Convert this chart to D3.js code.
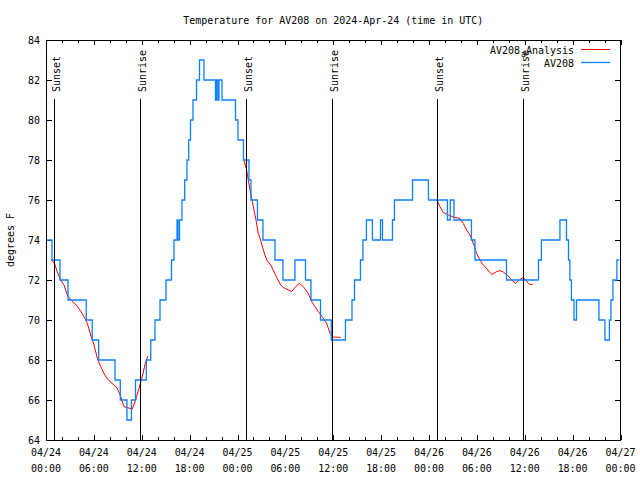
<!DOCTYPE html>
<html>
<head>
<meta charset="utf-8">
<script src="https://cdn.jsdelivr.net/npm/d3@7"></script>
<style>
  body { margin: 0; background: #fff; }
  svg { display: block; }
  text { font-family: 'DejaVu Sans Mono', monospace; font-size: 11px; fill: #000; }
</style>
</head>
<body>
<div class="js-container"></div>
<script>
;(function() {
  'use strict';

  // Hours since 2024-04-24 00:00 UTC at which the AV208 reading changes, and the new reading.
  var sensorHours = [0, 0.75, 1.75, 2.76, 5.04, 5.79, 6.6, 8.65, 9.31, 10.15, 10.71, 11.22,
    12.57, 13.13, 13.66, 14.29, 15.04, 15.73, 16.04, 16.42, 16.54, 16.73, 17.04, 17.38,
    17.67, 17.88, 18.11, 18.42, 18.86, 19.24, 19.8, 21.24, 21.37, 21.55, 21.68, 22.06,
    23.75, 24.06, 24.75, 25.44, 25.69, 26.5, 27.19, 28.7, 29.7, 31.2, 32.52, 33.21, 34.4,
    35.75, 37.53, 38.35, 38.66, 39.41, 39.72, 40.16, 40.91, 41.92, 42.17, 43.42, 43.67,
    45.93, 47.93, 50.31, 50.66, 51.13, 53.32, 53.76, 57.71, 61.72, 62.09, 64.41, 65.23,
    65.48, 65.66, 65.85, 66.17, 66.48, 69.3, 70.05, 70.61, 70.8, 71.05, 71.55, 71.8];
  var sensorTemps = [74, 73, 72, 71, 70, 69, 68, 67, 66, 65, 66, 67,
    68, 69, 70, 71, 72, 73, 74, 75, 74, 75, 76, 77,
    78, 79, 80, 81, 82, 83, 82, 81, 82, 81, 82, 81,
    80, 79, 78, 77, 76, 75, 74, 73, 72, 73, 72, 71, 70,
    69, 70, 71, 72, 73, 74, 75, 74, 75, 74, 75, 76,
    77, 76, 75, 76, 75, 74, 73, 72, 73, 74, 75, 74,
    73, 72, 71, 70, 71, 70, 69, 70, 71, 72, 73, 73];

  // Night-time analysis curve, null marks a gap between nights.
  var analysisHours = [0.66, 1.09, 1.42, 1.84, 2.26, 2.67, 3.17, 3.72, 4.26, 4.76, 5.18, 5.6,
    6.02, 6.43, 6.85, 7.27, 7.68, 8.31, 8.93, 9.36, 9.77, 10.19, 10.81, 11.24, 11.65,
    12.07, 12.49, 12.78, null,
    24.72, 25.15, 25.35, 25.65, 25.98, 26.32, 26.6, 26.9, 27.23, 27.66, 28.16, 28.57,
    28.98, 29.41, 29.74, 30.36, 30.79, 31.2, 31.74, 32.24, 32.87, 33.3, 33.71, 34.12,
    34.59, 35.18, 35.59, 35.9, 36.93, null,
    48.96, 49.37, 49.79, 50.21, 50.71, 51.25, 51.88, 52.29, 52.72, 53.13, 53.55, 53.97,
    54.39, 54.8, 55.23, 55.64, 55.93, 56.48, 56.89, 57.31, 57.93, 58.36, 58.86, 59.31,
    59.81, 60.15, 60.44, 60.65, 60.99];
  var analysisTemps = [73.03, 72.8, 72.4, 72.0, 71.75, 71.25, 70.98, 70.78, 70.5, 70.17, 69.83, 69.25,
    68.75, 68.08, 67.67, 67.33, 67.05, 66.83, 66.58, 66.17, 65.67, 65.62, 65.55, 66.0, 66.58,
    67.17, 67.92, 68.2, null,
    78.1, 77.5, 77.0, 76.33, 75.67, 75.0, 74.33, 74.0, 73.5, 73.0, 72.75, 72.42,
    72.08, 71.75, 71.63, 71.5, 71.42, 71.63, 71.83, 71.67, 71.33, 70.92, 70.67, 70.42,
    70.17, 69.83, 69.33, 69.15, 69.13, null,
    76.03, 75.67, 75.37, 75.3, 75.2, 75.13, 75.08, 74.83, 74.5, 74.25, 73.83, 73.33,
    73.0, 72.75, 72.58, 72.37, 72.28, 72.42, 72.47, 72.4, 72.2, 72.0, 71.83, 72.0,
    72.13, 72.0, 71.83, 71.78, 71.78];

  var sunsetHours = [1.05, 25.1, 49.05];
  var sunriseHours = [11.8, 35.92, 59.82];

  var yTickValues = [64, 66, 68, 70, 72, 74, 76, 78, 80, 82, 84];
  var xMajorHours = [0, 6, 12, 18, 24, 30, 36, 42, 48, 54, 60, 66, 72];

  var titleText = 'Temperature for AV208 on 2024-Apr-24 (time in UTC)';

  var W = 640, H = 480;
  var left = 46, right = 620.5, top = 40, bottom = 440;
  var t0 = Date.UTC(2024, 3, 24);

  function hourToDate(h) {
    return new Date(t0 + h * 3600 * 1000);
  }

  var x = d3.scaleUtc()
      .domain([hourToDate(0), hourToDate(72)])
      .range([left, right]);
  var y = d3.scaleLinear()
      .domain([64, 84])
      .range([bottom, top]);

  var svg = d3.select('.js-container').append('svg')
      .attr('width', W)
      .attr('height', H);

  svg.append('rect')
      .attr('width', W).attr('height', H)
      .attr('fill', '#fff');

  /**
   * Squeeze text to the 6px-per-character look of the bitmap font.
   */
  function mono(sel) {
    sel.each(function() {
      var n = this.textContent.length;
      d3.select(this)
          .attr('textLength', n * 6)
          .attr('lengthAdjust', 'spacingAndGlyphs');
    });
    return sel;
  }

  // Title
  svg.append('text')
      .attr('x', (left + right) / 2)
      .attr('y', 24)
      .attr('text-anchor', 'middle')
      .text(titleText)
      .call(mono);

  // Y label
  svg.append('text')
      .attr('transform', 'translate(14,' + ((top + bottom) / 2) + ') rotate(-90)')
      .attr('text-anchor', 'middle')
      .text('degrees F')
      .call(mono);

  var fmtDate = d3.utcFormat('%m/%d');
  var fmtTime = d3.utcFormat('%H:%M');
  var xMinor = d3.range(0, 73, 2).map(hourToDate);
  var xMajor = xMajorHours.map(hourToDate);

  // Axes: bottom, top (mirror), left, right (mirror)
  var axes = svg.append('g').attr('shape-rendering', 'crispEdges');

  axes.append('g')
      .attr('transform', 'translate(0,' + bottom + ')')
      .call(d3.axisTop(x).tickValues(xMinor).tickSize(3).tickFormat(''))
      .call(function(g) { g.select('.domain').remove(); });
  axes.append('g')
      .attr('transform', 'translate(0,' + bottom + ')')
      .call(d3.axisTop(x).tickValues(xMajor).tickSize(5).tickFormat(''))
      .call(function(g) { g.select('.domain').remove(); });
  axes.append('g')
      .attr('transform', 'translate(0,' + top + ')')
      .call(d3.axisBottom(x).tickValues(xMinor).tickSize(3).tickFormat(''))
      .call(function(g) { g.select('.domain').remove(); });
  axes.append('g')
      .attr('transform', 'translate(0,' + top + ')')
      .call(d3.axisBottom(x).tickValues(xMajor).tickSize(5).tickFormat(''))
      .call(function(g) { g.select('.domain').remove(); });
  axes.append('g')
      .attr('transform', 'translate(' + left + ',0)')
      .call(d3.axisRight(y).tickValues(yTickValues).tickSize(6).tickFormat(''))
      .call(function(g) { g.select('.domain').remove(); });
  axes.append('g')
      .attr('transform', 'translate(' + right + ',0)')
      .call(d3.axisLeft(y).tickValues(yTickValues).tickSize(6).tickFormat(''))
      .call(function(g) { g.select('.domain').remove(); });
  axes.selectAll('line').attr('stroke', '#000');

  // Tick labels
  svg.append('g').selectAll('text')
      .data(yTickValues)
      .join('text')
      .attr('x', left - 6)
      .attr('y', function(d) { return y(d) + 4; })
      .attr('text-anchor', 'end')
      .text(function(d) { return d; })
      .call(mono);

  var xl = svg.append('g').selectAll('g')
      .data(xMajor)
      .join('g')
      .attr('transform', function(d) { return 'translate(' + x(d) + ',0)'; });
  xl.append('text')
      .attr('y', 456)
      .attr('text-anchor', 'middle')
      .text(function(d) { return fmtDate(d); })
      .call(mono);
  xl.append('text')
      .attr('y', 472)
      .attr('text-anchor', 'middle')
      .text(function(d) { return fmtTime(d); })
      .call(mono);

  // Analysis curve (red)
  var analysis = analysisHours.map(function(h, i) {
    return { h: h, v: analysisTemps[i] };
  });
  var redLine = d3.line()
      .defined(function(d) { return d.h !== null; })
      .x(function(d) { return x(hourToDate(d.h)); })
      .y(function(d) { return y(d.v); });
  svg.append('path')
      .datum(analysis)
      .attr('d', redLine)
      .attr('fill', 'none')
      .attr('stroke', '#ff0000')
      .attr('stroke-width', 1);

  // Sensor readings (blue), held until the next change
  var sensor = sensorHours.map(function(h, i) {
    return { h: h, v: sensorTemps[i] };
  });
  var blueLine = d3.line()
      .curve(d3.curveStepAfter)
      .x(function(d) { return x(hourToDate(d.h)); })
      .y(function(d) { return y(d.v); });
  svg.append('path')
      .datum(sensor)
      .attr('d', blueLine)
      .attr('fill', 'none')
      .attr('stroke', '#0a80ff')
      .attr('stroke-width', 1.3);

  // Sunset / sunrise markers
  var sun = sunsetHours.map(function(h) { return { h: h, label: 'Sunset' }; })
      .concat(sunriseHours.map(function(h) { return { h: h, label: 'Sunrise' }; }));
  var marks = svg.append('g').selectAll('g')
      .data(sun)
      .join('g')
      .attr('transform', function(d) { return 'translate(' + x(hourToDate(d.h)) + ',0)'; });
  marks.append('line')
      .attr('y1', 99).attr('y2', bottom)
      .attr('stroke', '#000')
      .attr('stroke-width', 1.2)
      .attr('shape-rendering', 'crispEdges');
  marks.append('text')
      .attr('transform', 'translate(5.5,92) rotate(-90)')
      .text(function(d) { return d.label; })
      .call(mono);

  // Plot border
  svg.append('rect')
      .attr('x', left).attr('y', top)
      .attr('width', right - left).attr('height', bottom - top)
      .attr('fill', 'none')
      .attr('stroke', '#000')
      .attr('shape-rendering', 'crispEdges');

  // Legend
  var legend = svg.append('g');
  legend.append('text')
      .attr('x', 520).attr('y', 54)
      .attr('text-anchor', 'end')
      .text('AV208')
      .call(mono);
  legend.append('text')
      .attr('x', 521).attr('y', 57)
      .style('font-size', '8px')
      .text('a');
  legend.append('text')
      .attr('x', 574).attr('y', 54)
      .attr('text-anchor', 'end')
      .text('Analysis')
      .call(mono);
  legend.append('text')
      .attr('x', 574).attr('y', 67)
      .attr('text-anchor', 'end')
      .text('AV208')
      .call(mono);
  legend.append('line')
      .attr('x1', 581).attr('x2', 610)
      .attr('y1', 49.5).attr('y2', 49.5)
      .attr('stroke', '#ff0000');
  legend.append('line')
      .attr('x1', 581).attr('x2', 610)
      .attr('y1', 62.5).attr('y2', 62.5)
      .attr('stroke', '#0a80ff')
      .attr('stroke-width', 1.3);

}());
</script>
</body>
</html>
